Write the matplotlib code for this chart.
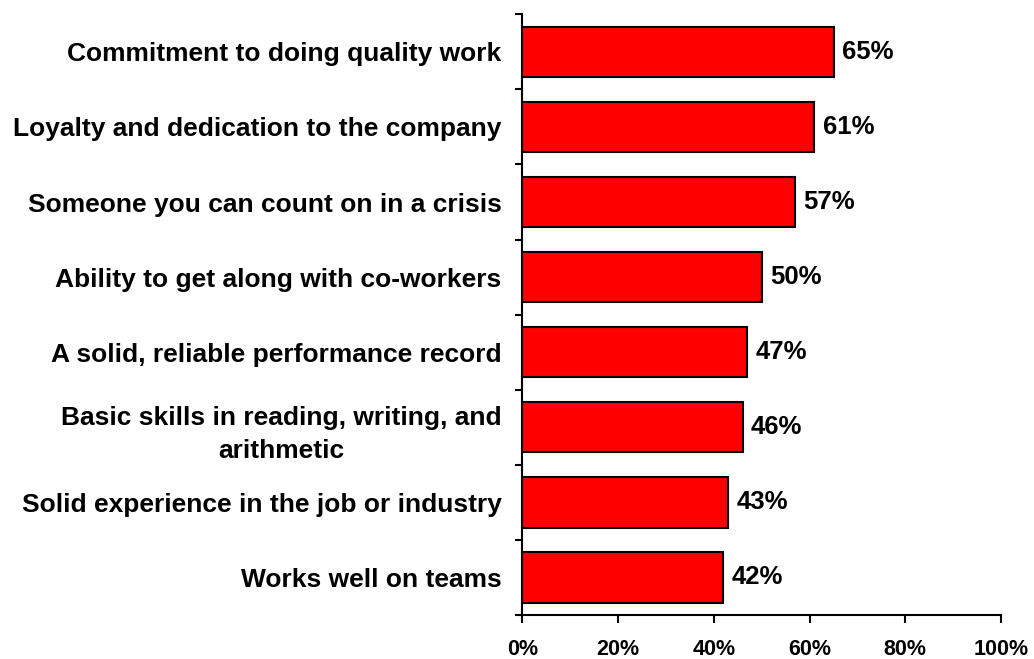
import matplotlib
matplotlib.use("Agg")
import matplotlib.pyplot as plt
import numpy as np

plt.rcParams['font.family'] = ['Liberation Sans', 'DejaVu Sans']
plt.rcParams['font.weight'] = 'bold'

categories = [
    "Commitment to doing quality work",
    "Loyalty and dedication to the company",
    "Someone you can count on in a crisis",
    "Ability to get along with co-workers",
    "A solid, reliable performance record",
    "Basic skills in reading, writing, and\narithmetic",
    "Solid experience in the job or industry",
    "Works well on teams",
]
values = [65, 61, 57, 50, 47, 46, 43, 42]
xticks = [0, 20, 40, 60, 80, 100]

fig = plt.figure(figsize=(10.34, 6.59), dpi=100)
ax = fig.add_axes([0.5053, 0.0667, 0.9681 - 0.5053, 0.9783 - 0.0667])

pos = np.arange(len(categories))
ax.barh(pos, values, height=0.67, color='#ff0000', edgecolor='black', linewidth=1.5)

# value labels just past the end of each bar
for y, v in zip(pos, values):
    ax.annotate(f"{v}%", xy=(v, y), xytext=(6, 0), textcoords='offset points',
                ha='left', va='center', fontsize=18.5, fontweight='bold')

ax.set_xlim(0, 100)
ax.set_ylim(len(categories) - 0.5, -0.5)

ax.set_xticks(xticks)
ax.set_xticklabels([f"{t}%" for t in xticks], fontsize=15.5, fontweight='bold')
ax.tick_params(axis='x', direction='out', length=6, width=1.5, pad=11)

ax.set_yticks(pos)
ax.set_yticklabels(categories, fontsize=19, fontweight='bold')
for lbl in ax.get_yticklabels():
    lbl.set_multialignment('center')
    lbl.set_linespacing(1.5)
ax.tick_params(axis='y', which='major', length=0, pad=15)
ax.set_yticks(np.arange(-0.5, len(categories)), minor=True)
ax.tick_params(axis='y', which='minor', direction='out', length=5, width=1.5)

for side in ['top', 'right']:
    ax.spines[side].set_visible(False)
for side in ['left', 'bottom']:
    ax.spines[side].set_linewidth(1.5)

fig.savefig("out.png", dpi=100)
